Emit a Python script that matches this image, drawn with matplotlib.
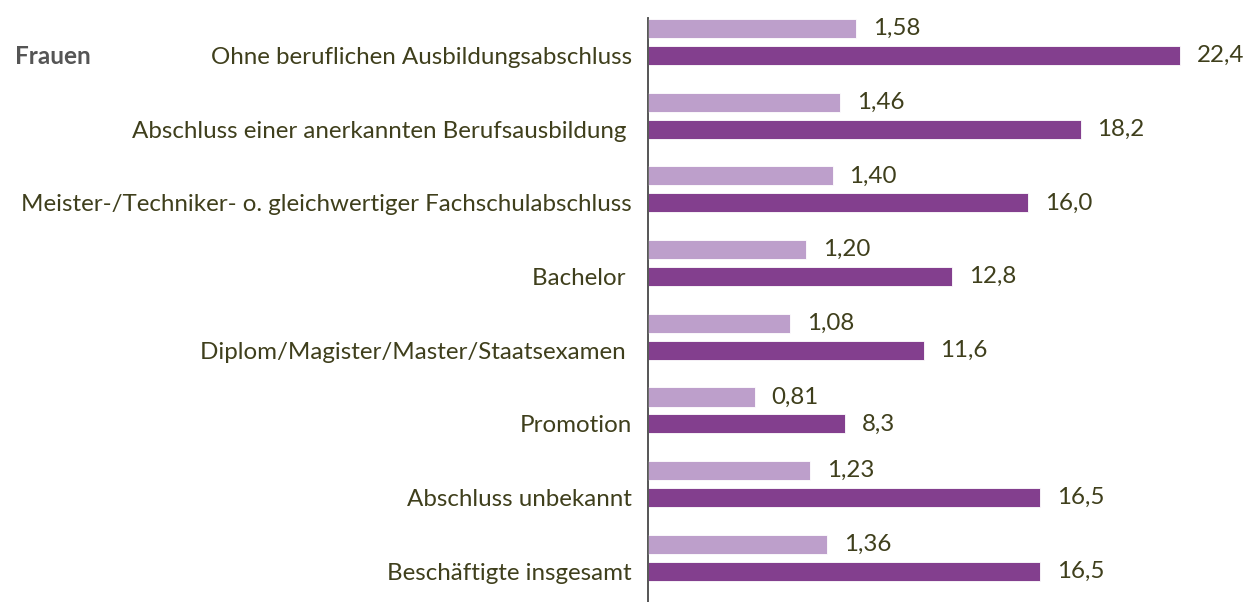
import matplotlib
matplotlib.use("Agg")
import matplotlib.pyplot as plt
import numpy as np

# ── Data ─────────────────────────────────────────────────────────────────────
categories = [
    "Ohne beruflichen Ausbildungsabschluss",
    "Abschluss einer anerkannten Berufsausbildung ",
    "Meister-/Techniker- o. gleichwertiger Fachschulabschluss",
    "Bachelor ",
    "Diplom/Magister/Master/Staatsexamen ",
    "Promotion",
    "Abschluss unbekannt",
    "Beschäftigte insgesamt",
]
light_vals = [1.58, 1.46, 1.40, 1.20, 1.08, 0.81, 1.23, 1.36]
dark_vals = [22.4, 18.2, 16.0, 12.8, 11.6, 8.3, 16.5, 16.5]
group_label = "Frauen"

# ── Style ────────────────────────────────────────────────────────────────────
LIGHT = "#bd9fcb"
DARK = "#833f8e"
TEXT = "#3f3f1c"
plt.rcParams["font.family"] = ["Lato", "DejaVu Sans"]
FS = 17.4

fig = plt.figure(figsize=(12.48, 6.02), dpi=100)
ax = fig.add_axes([648 / 1248, 0, 600 / 1248, 584 / 602])
ax2 = ax.twiny()

y = np.arange(len(categories))
off = 0.183
h = 0.26

ax.barh(y + off, dark_vals, height=h, color=DARK, edgecolor="white", linewidth=0.6)
ax2.barh(y - off, light_vals, height=h, color=LIGHT, edgecolor="white", linewidth=0.6)

ax.set_xlim(0, 25.24)
ax2.set_xlim(0, 4.552)
ax.set_ylim(7.6, -0.326)
ax2.set_ylim(7.6, -0.326)

for a in (ax, ax2):
    for s in ("top", "right", "bottom"):
        a.spines[s].set_visible(False)
    a.spines["left"].set_color("#555555")
    a.spines["left"].set_linewidth(1.2)
    a.set_xticks([])
    a.tick_params(length=0)

ax2.set_yticks([])
ax.set_yticks(y + off)
ax.set_yticklabels(categories, fontsize=FS, color=TEXT)
ax.tick_params(axis="y", pad=11.5)

for yi, v in zip(y, dark_vals):
    ax.annotate(f"{v:.1f}".replace(".", ","), (v, yi + off), xytext=(12, 0),
                textcoords="offset points", va="center", ha="left",
                fontsize=FS, color=TEXT)
for yi, v in zip(y, light_vals):
    ax2.annotate(f"{v:.2f}".replace(".", ","), (v, yi - off), xytext=(12, 0),
                 textcoords="offset points", va="center", ha="left",
                 fontsize=FS, color=TEXT)

fig.text(15 / 1248, 1 - 56 / 602, group_label, fontsize=17.5, fontweight="bold",
         color="#555555", va="center", ha="left")

fig.savefig("out.png", dpi=100)
